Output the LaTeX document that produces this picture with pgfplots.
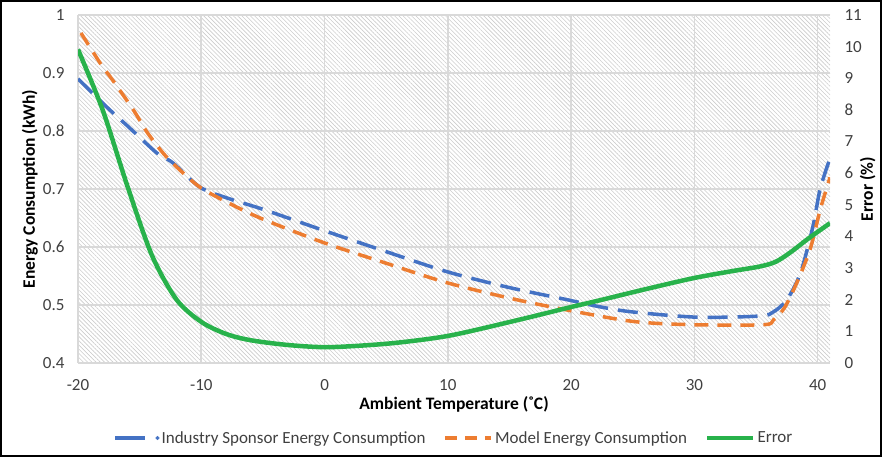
\documentclass[border=0pt]{standalone}
\usepackage{pgfplots}
\pgfplotsset{compat=1.18}
\usepackage{fontspec}
\setmainfont{Carlito}
\usetikzlibrary{patterns.meta}
\definecolor{cblue}{HTML}{4472C4}
\definecolor{corange}{HTML}{ED7D31}
\definecolor{cgreen}{RGB}{40,178,75}
\definecolor{cgrid}{HTML}{D9D9D9}
\definecolor{ctext}{HTML}{404040}
\begin{document}
\begin{tikzpicture}[x=1pt,y=1pt]
\useasboundingbox (0,0) rectangle (882,457);
\draw[line width=2pt] (1,1) rectangle (881,456);
\pgfplotsset{
  common/.style={
    at={(78pt,94pt)}, anchor=south west, scale only axis,
    width=752pt, height=348pt, xmin=-20, xmax=41,
    major tick length=0pt,
    /pgf/number format/assume math mode=true,
    tick label style={font=\fontsize{17}{20}\selectfont, text=ctext},
    label style={font=\fontsize{17.5}{20}\selectfont\bfseries},
  }
}
\begin{axis}[common,
  ymin=0.4, ymax=1,
  xtick={-20,-10,0,10,20,30,40},
  ytick={0.4,0.5,0.6,0.7,0.8,0.9,1},
  yticklabels={0.4,0.5,0.6,0.7,0.8,0.9,1},
  xmajorgrids, ymajorgrids,
  grid style={cgrid, line width=1.6pt},
  axis line style={draw=none},
  axis background/.style={pattern={Lines[angle=-45,distance=3pt,line width=0.6pt]}, pattern color=black!20},
  xticklabel style={yshift=-13pt},
  yticklabel style={xshift=-10pt},
  xlabel={Ambient Temperature (˚C)},
  xlabel style={at={(0.5,-0.118)}, anchor=center},
  ylabel={Energy Consumption (kWh)},
  ylabel style={at={(-0.064,0.5)}, anchor=center},
]
\addplot[cblue, line width=3.5pt, smooth, dash pattern=on 20pt off 10pt] coordinates {
(-20,0.890) (-17.65,0.841) (-16.0,0.809) (-13.6,0.762) (-12.3,0.745) (-10.1,0.703)
(-7.7,0.683) (-5,0.665) (0,0.628) (5,0.592) (10,0.557) (15,0.530) (19.7,0.509)
(22.3,0.497) (25,0.488) (30.2,0.479) (35.3,0.481) (36.4,0.488) (37.5,0.509)
(38.6,0.555) (39.6,0.634) (40.2,0.700) (41,0.753)
};
\addplot[corange, line width=3.5pt, smooth, dash pattern=on 14pt off 9pt] coordinates {
(-19.76,0.969) (-18.2,0.917) (-17.2,0.888) (-15.5,0.836) (-14.4,0.798) (-13.1,0.762)
(-12.0,0.738) (-10.1,0.703) (-7.7,0.675) (-5,0.648) (0,0.607) (5,0.572) (10,0.538)
(15.6,0.509) (21,0.486) (25.3,0.471) (29.9,0.466) (35.6,0.466) (36.4,0.474)
(37.3,0.495) (38.3,0.538) (39.4,0.597) (40.2,0.664) (41,0.720)
};
\end{axis}
\begin{axis}[common,
  ymin=0, ymax=11,
  ytick={0,1,2,3,4,5,6,7,8,9,10,11},
  axis x line=none,
  axis y line*=right,
  axis line style={draw=none},
  yticklabel style={xshift=11pt},
  ylabel={Error (\%)},
  ylabel style={at={(1.05,0.5)}, anchor=center, rotate=0},
  legend columns=3,
  legend style={draw=none, fill=none, at={(0.5,-0.2155)}, anchor=center,
    font=\fontsize{17}{20}\selectfont, text=ctext,
    /tikz/every even column/.append style={column sep=16pt}},
]
\addlegendimage{legend image code/.code={\draw[cblue,line width=3.5pt] (0pt,0pt)--(30pt,0pt); \fill[cblue] (42pt,0pt) circle (1.9pt);}}
\addlegendentry{Industry Sponsor Energy Consumption}
\addlegendimage{legend image code/.code={\draw[corange,line width=3.5pt,dash pattern=on 12pt off 8pt] (0pt,0pt)--(46pt,0pt);}}
\addlegendentry{Model Energy Consumption}
\addplot[cgreen, line width=4.5pt, smooth,
  legend image code/.code={\draw[cgreen,line width=4.5pt] (0pt,0pt)--(46pt,0pt);}] coordinates {
(-20,9.91) (-18,8.0) (-16,5.6) (-14,3.4) (-12,2.0) (-10,1.3) (-8,0.92)
(-6,0.72) (-3,0.57) (0,0.50) (3,0.55) (6.1,0.65) (10.2,0.87) (15.6,1.35) (20,1.77)
(22.3,1.98) (26,2.33) (29.9,2.68) (33,2.90) (35.3,3.05) (36.6,3.2) (37.8,3.5)
(39.3,3.95) (41,4.42)
};
\addlegendentry{Error}
\end{axis}
\end{tikzpicture}
\end{document}
